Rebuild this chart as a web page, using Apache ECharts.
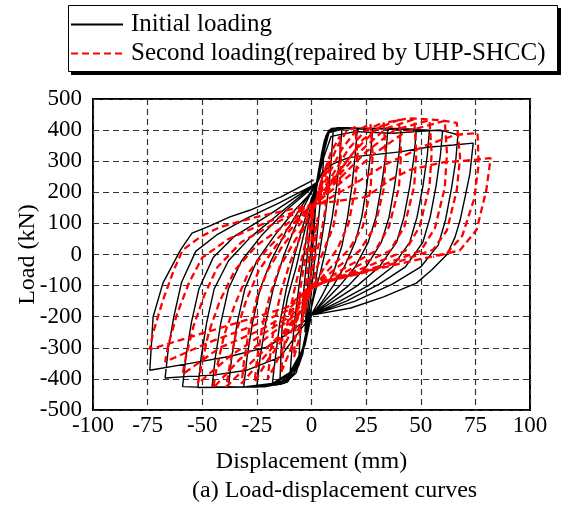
<!DOCTYPE html>
<html><head><meta charset="utf-8">
<script src="https://cdn.jsdelivr.net/npm/echarts@6/dist/echarts.min.js"></script>
<style>html,body{margin:0;padding:0;background:#fff}#c{width:563px;height:508px}</style>
</head><body><div id="c"></div>
<script>
var xTicks = [-100,-75,-50,-25,0,25,50,75,100];
var yTicks = [-500,-400,-300,-200,-100,0,100,200,300,400,500];
var seriesNames = ['Initial loading','Second loading(repaired by UHP-SHCC)'];

// Initial loading, cycle by cycle [displacement mm, load kN]
var black1 = [[0,0],[0.8,100],[1.6,180],[2.5,240],[2,170],[1,60],[0,-30],[-1,-120],[-2,-200],[-3,-250],[-2.3,-160],[-1.2,-50],[0,40],[1,120],[2,200],[3,240]];
var black2 = [[4.5,320],[6,370],[5.3,280],[4,170],[2.5,60],[1,-50],[-0.5,-150],[-2,-230],[-4,-320],[-6,-360],[-5.2,-270],[-4,-150],[-2.5,-40],[-1,60],[0.5,150],[2,220]];
var black3 = [[4,300],[6.5,380],[8,400],[10,405],[9.2,320],[8,220],[6,110],[4,20],[2,-80],[0,-170],[-2,-240],[-4.5,-320],[-7,-380],[-10,-400],[-9,-310],[-7.5,-200],[-5.5,-90],[-3,20],[-1,120],[1,200],[3,235]];
var black4 = [[5,310],[7,385],[9,403],[12,408],[14,408],[13,320],[11.5,220],[9.5,120],[7,30],[4,-60],[1,-140],[-1,-200],[-4,-300],[-7.5,-375],[-11,-410],[-14.5,-418],[-14,-330],[-13.5,-236],[-11,-140],[-7,-40],[-3,80],[1,190],[3,235]];
var black5 = [[5,310],[7,385],[9,405],[14,408],[18,405],[21,405],[20,320],[18.5,220],[16.5,120],[14,30],[10,-60],[5,-130],[1,-180],[-1,-205],[-4,-300],[-8,-380],[-12,-410],[-16,-420],[-18,-420],[-16.5,-330],[-14.5,-220],[-11.5,-110],[-8,-10],[-4,90],[0,180],[3,235]];
var black6 = [[5,310],[7,385],[10,405],[15,408],[20,405],[25,402],[28,403],[27,320],[25.3,220],[23,120],[20,40],[15,-40],[10,-100],[5,-150],[0,-195],[-3,-280],[-7,-360],[-11,-400],[-16,-418],[-21,-425],[-25,-425],[-23.5,-330],[-21,-220],[-17.5,-110],[-13,-10],[-8,80],[-3,160],[1,215],[3,235]];
var black7 = [[5,310],[7.5,390],[12,405],[20,406],[28,404],[35,405],[34,320],[32,220],[29.5,120],[26,40],[20,-40],[13,-100],[6,-150],[0,-195],[-3,-280],[-7,-360],[-12,-405],[-18,-420],[-25,-426],[-31,-425],[-29.5,-330],[-27,-220],[-23.5,-110],[-18.5,-20],[-12,70],[-5,150],[0,205],[3,235]];
var black8 = [[5,310],[8,392],[15,405],[25,406],[33,405],[41,405],[40,320],[38,220],[35.5,120],[32,40],[25,-40],[17,-100],[8,-150],[0,-195],[-3,-285],[-8,-370],[-14,-410],[-22,-422],[-30,-426],[-38,-425],[-36.5,-330],[-34,-220],[-30.5,-110],[-25,-20],[-17,60],[-8,140],[0,200],[3,235]];
var black9 = [[5,310],[8,392],[15,405],[25,406],[37,405],[48,403],[47,320],[45,220],[42.3,120],[39,40],[31,-40],[21,-100],[10,-150],[0,-195],[-3,-290],[-9,-375],[-16,-413],[-25,-424],[-35,-427],[-45.5,-425],[-44,-330],[-41.5,-220],[-38,-110],[-32,-20],[-23,60],[-12,140],[-2,200],[3,235]];
var black10 = [[5,310],[8,392],[15,405],[28,405],[40,404],[54,400],[53,320],[51,220],[48.3,120],[45,40],[37,-40],[26,-100],[13,-150],[0,-195],[-3,-290],[-9,-378],[-17,-415],[-28,-426],[-40,-427],[-52,-428],[-50.5,-330],[-48,-220],[-44.5,-110],[-38,-20],[-28,55],[-15,130],[-3,200],[3,235]];
var black11 = [[5,310],[8,392],[15,404],[30,404],[45,402],[60,398],[59,320],[57,220],[54.3,120],[51,40],[43,-40],[31,-95],[16,-150],[0,-195],[-3,-292],[-10,-380],[-18,-415],[-30,-425],[-45,-428],[-59,-425],[-57.5,-330],[-55,-220],[-51.5,-110],[-45,-10],[-35,60],[-20,125],[-5,195],[3,235]];
var black12 = [[5,300],[9,380],[20,395],[37,390],[50,396],[59,400],[67,385],[66,300],[64,210],[61.3,110],[58,30],[50,-40],[37,-95],[20,-150],[0,-195],[-7,-260],[-14.4,-330],[-29.5,-372],[-45,-388],[-56,-392],[-67,-397],[-65.5,-300],[-63,-200],[-59.5,-90],[-53,10],[-43,65],[-30,115],[-15,165],[0,220],[3,235]];
var black13 = [[5,265],[10,292],[17.6,313],[30,322],[40.5,330],[52.9,345],[65,352],[74,358],[72.5,260],[70.3,185],[68,110],[65.7,56],[62,0],[55,-50],[48,-92],[33,-136],[18,-172],[0,-195],[-8.5,-243],[-20,-297],[-37,-327],[-55.6,-350],[-74,-372],[-72.5,-201],[-68,-92],[-60,14],[-54.7,69],[-47.8,88],[-37.3,121],[-28,143],[-14,185],[1,240]];

// Second loading (repaired by UHP-SHCC)
var red1 = [[0,0],[1,50],[2,90],[3,120],[2,60],[1,0],[0,-40],[-1,-80],[-2,-110],[-3,-120],[-2,-60],[-1,0],[0,50],[0.5,100]];
var red2 = [[1,140],[3,200],[5,250],[8,300],[7.5,220],[6,130],[4,50],[2,0],[0,-60],[-2,-130],[-4,-210],[-6,-280],[-8,-330],[-7.5,-250],[-6,-150],[-4,-60],[-2,20],[0,100],[1,150]];
var red3 = [[2,170],[5,250],[9,330],[13,380],[13.5,290],[12.5,190],[10,90],[6,20],[2,-50],[0,-110],[-3,-180],[-7,-260],[-11,-330],[-14,-380],[-13,-320],[-11,-220],[-8,-120],[-5,-30],[-2,60],[0,130],[1,160]];
var red4 = [[3,190],[7,270],[12,350],[16,395],[20,410],[21,320],[20,210],[17,100],[12,20],[6,-40],[0,-110],[-3,-160],[-8,-230],[-13,-300],[-17,-360],[-20,-400],[-19,-330],[-17,-220],[-14,-120],[-10,-30],[-5,60],[-1,130],[1,160]];
var red5 = [[3,190],[8,260],[14,340],[20,395],[27,420],[28,320],[27,210],[23.5,90],[17,15],[9,-40],[0,-110],[-3,-160],[-9,-230],[-15,-290],[-21,-350],[-26,-410],[-25,-340],[-22.5,-230],[-19,-130],[-14.5,-40],[-8,40],[-2,110],[1,160]];
var red6 = [[3,185],[10,260],[17,340],[25,400],[33,425],[34,320],[33,210],[29,90],[22,12],[12,-40],[0,-110],[-4,-170],[-11,-240],[-18,-300],[-26,-365],[-32,-415],[-31,-350],[-28.5,-240],[-25,-140],[-20,-50],[-13,30],[-5,100],[1,160]];
var red7 = [[3,180],[11,255],[20,335],[30,405],[40,433],[41,325],[40,215],[35.5,90],[29,10],[16,-40],[0,-110],[-5,-180],[-13,-250],[-22,-310],[-31,-370],[-39,-425],[-37.5,-360],[-34.5,-250],[-30,-150],[-24,-50],[-16,30],[-7,100],[1,160]];
var red8 = [[3,180],[12,250],[22,330],[34,405],[47,435],[48,325],[47,220],[42.5,90],[36,12],[20,-40],[0,-110],[-8.5,-200],[-20,-265],[-33,-338],[-45,-430],[-43.5,-370],[-40,-260],[-35,-160],[-29,-60],[-20,20],[-10,90],[1,160]];
var red9 = [[3,175],[13,245],[25,330],[38,400],[54,432],[55,325],[54,220],[49.5,90],[43,12],[25,-40],[0,-105],[-9,-195],[-22,-255],[-37,-325],[-52,-415],[-50.5,-360],[-47,-250],[-42,-150],[-35,-50],[-25,30],[-12,95],[1,160]];
var red10 = [[3,170],[15,240],[28,320],[43,395],[61,430],[62,325],[61,215],[56.5,85],[50,12],[30,-40],[0,-100],[-10,-190],[-24,-245],[-42,-300],[-59,-385],[-57.5,-330],[-54,-230],[-49,-130],[-43,-40],[-32,40],[-17,100],[1,160]];
var red11 = [[3,165],[12,260],[23.6,370],[34.5,425],[45,438],[59,432],[66.5,423],[68,313],[66.5,207],[62,78],[55.6,15],[35,-35],[0,-100],[-11,-180],[-27,-230],[-46,-280],[-67,-345],[-65.5,-290],[-61.5,-190],[-56,-90],[-50,-10],[-38,50],[-20,105],[1,160]];
var red12 = [[3,160],[18,220],[34,290],[52,350],[66,385],[76,390],[76.5,290],[74.5,180],[69,60],[62,4],[40,-30],[0,-100],[-11,-169],[-25,-200],[-45,-243],[-60,-275],[-74,-305],[-72.5,-252],[-68,-147],[-63,-50],[-59,14],[-51,56],[-42,88],[-25,121],[0,160]];
var red13 = [[10,170],[25,185],[36,240],[45,272],[59,295],[74,304],[82,310],[80,207],[75.6,80],[68,14],[55.6,-8]];

var blackData = [].concat(black1,black2,black3,black4,black5,black6,black7,black8,black9,black10,black11,black12,black13);
var redData = [].concat(red1,red2,red3,red4,red5,red6,red7,red8,red9,red10,red11,red12,red13);

var FONT = "'Liberation Serif','Times New Roman',serif";
var chart = echarts.init(document.getElementById('c'), null, {renderer:'canvas'});
chart.setOption({
  animation:false,
  backgroundColor:'#fff',
  title:{text:'(a) Load-displacement curves',left:187,top:474,textStyle:{fontFamily:FONT,fontSize:24,fontWeight:'normal',color:'#000'}},
  graphic:[
    {type:'rect',z:0,zlevel:0,shape:{x:71,y:8,width:490,height:67},style:{fill:'#000'},silent:true},
    {type:'rect',z:1,zlevel:0,shape:{x:68.5,y:5.5,width:489,height:66},style:{fill:'#fff',stroke:'#000',lineWidth:1},silent:true}
  ],
  legend:{
    orient:'vertical',left:70,top:11,z:10,
    data:seriesNames,
    itemWidth:52,itemHeight:14,itemGap:2,
    padding:0,
    itemStyle:{opacity:0},
    textStyle:{fontFamily:FONT,fontSize:25,color:'#000',lineHeight:27,padding:[0,0,0,3]}
  },
  grid:{left:93,right:33,top:99,bottom:98,show:true,borderColor:'#000',borderWidth:2,backgroundColor:'transparent'},
  xAxis:{type:'value',min:xTicks[0],max:xTicks[xTicks.length-1],interval:25,
    name:'Displacement (mm)',nameLocation:'middle',nameGap:40,nameMoveOverlap:false,
    nameTextStyle:{fontFamily:FONT,fontSize:24,color:'#000'},
    axisLine:{show:false},axisTick:{show:false},
    axisLabel:{fontFamily:FONT,fontSize:23,color:'#000',margin:4},
    splitLine:{show:true,lineStyle:{color:'#333',width:1.2,type:[6,4]}}},
  yAxis:{type:'value',min:yTicks[0],max:yTicks[yTicks.length-1],interval:100,
    name:'Load (kN)',nameLocation:'middle',nameGap:53,nameRotate:90,nameMoveOverlap:false,
    nameTextStyle:{fontFamily:FONT,fontSize:24,color:'#000'},
    axisLine:{show:false},axisTick:{show:false},
    axisLabel:{fontFamily:FONT,fontSize:23,color:'#000',margin:11},
    splitLine:{show:true,lineStyle:{color:'#333',width:1.2,type:[6,4]}}},
  series:[
    {name:seriesNames[0],type:'line',data:blackData,showSymbol:false,symbol:'none',z:2,
     lineStyle:{color:'#000',width:1.4},itemStyle:{color:'#000'}},
    {name:seriesNames[1],type:'line',data:redData,showSymbol:false,symbol:'none',z:3,
     lineStyle:{color:'#ff0000',width:2.3,type:[7,4]},itemStyle:{color:'#ff0000'}}
  ]
});
</script></body></html>
